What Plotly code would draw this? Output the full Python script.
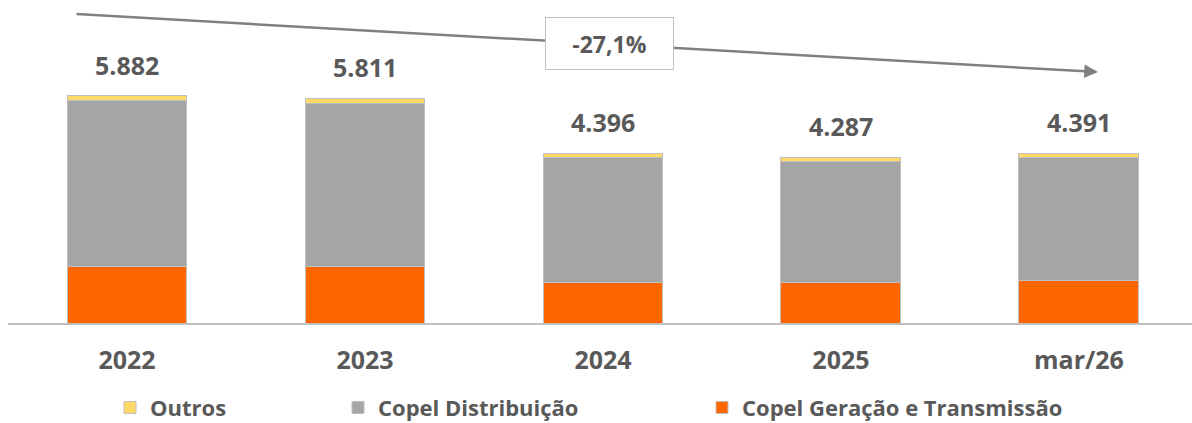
import plotly.graph_objects as go

categories = ["2022", "2023", "2024", "2025", "mar/26"]
totals = [5882, 5811, 4396, 4287, 4391]
geracao_transmissao = [1457, 1457, 1061, 1036, 1088]
outros = [135, 130, 105, 120, 110]
distribuicao = [t - g - o for t, g, o in zip(totals, geracao_transmissao, outros)]
total_labels = ["5.882", "5.811", "4.396", "4.287", "4.391"]
variation_label = "-27,1%"

FONT = "Open Sans"
TXT = "#595959"

fig = go.Figure()
fig.add_trace(go.Bar(x=categories, y=geracao_transmissao, name="<b>Copel Geração e Transmissão</b>",
                     marker=dict(color="#FF6600", line=dict(color="#BFBFBF", width=1)), legend="legend3"))
fig.add_trace(go.Bar(x=categories, y=distribuicao, name="<b>Copel Distribuição</b>",
                     marker=dict(color="#A5A5A5", line=dict(color="#BFBFBF", width=1)), legend="legend2"))
fig.add_trace(go.Bar(x=categories, y=outros, name="<b>Outros</b>",
                     marker=dict(color="#FFD966", line=dict(color="#BFBFBF", width=1)), legend="legend"))

for i, (t, lab) in enumerate(zip(totals, total_labels)):
    fig.add_annotation(x=i, y=t, text=f"<b>{lab}</b>", showarrow=False, yanchor="bottom", yshift=12,
                       font=dict(family=FONT, size=25, color=TXT))

# trend arrow
fig.add_annotation(x=0.9206, y=0.777, xref="paper", yref="paper", text="", showarrow=True,
                   ax=-1023, ay=-58, axref="pixel", ayref="pixel", arrowhead=2, arrowsize=1.1,
                   arrowwidth=2.5, arrowcolor="#808080")
fig.add_annotation(x=0.5084, y=0.8638, xref="paper", yref="paper", xanchor="center", yanchor="middle",
                   text=f"<b>{variation_label}</b>",
                   showarrow=False, bgcolor="white", bordercolor="#BFBFBF", borderwidth=1,
                   width=125, height=49, font=dict(family=FONT, size=23, color=TXT))

legfont = dict(family=FONT, size=22, color=TXT)
common = dict(orientation="h", yanchor="middle", y=-0.262, xanchor="left", font=legfont,
              bgcolor="rgba(0,0,0,0)", itemclick=False, maxheight=80)
fig.update_layout(
    width=1192, height=423,
    margin=dict(l=8, r=0, t=0, b=100, autoexpand=False),
    barmode="stack", bargap=0.496,
    plot_bgcolor="white", paper_bgcolor="white",
    xaxis=dict(type="category", range=[-0.5, 4.475], showline=True, linecolor="#BFBFBF", linewidth=2,
               tickfont=dict(family=FONT, size=25, color=TXT), ticks="", ticklabelstandoff=14,
               tickvals=categories, ticktext=[f"<b>{c}</b>" for c in categories]),
    yaxis=dict(range=[0, 8359], visible=False),
    legend=dict(x=(110 - 8) / 1184, **common),
    legend2=dict(x=(338 - 8) / 1184, **common),
    legend3=dict(x=(702 - 8) / 1184, **common),
    showlegend=True,
)

fig.write_html("out.html", config={"displayModeBar": False},
               post_script="document.body.style.margin='0px';document.body.style.overflow='hidden';")
